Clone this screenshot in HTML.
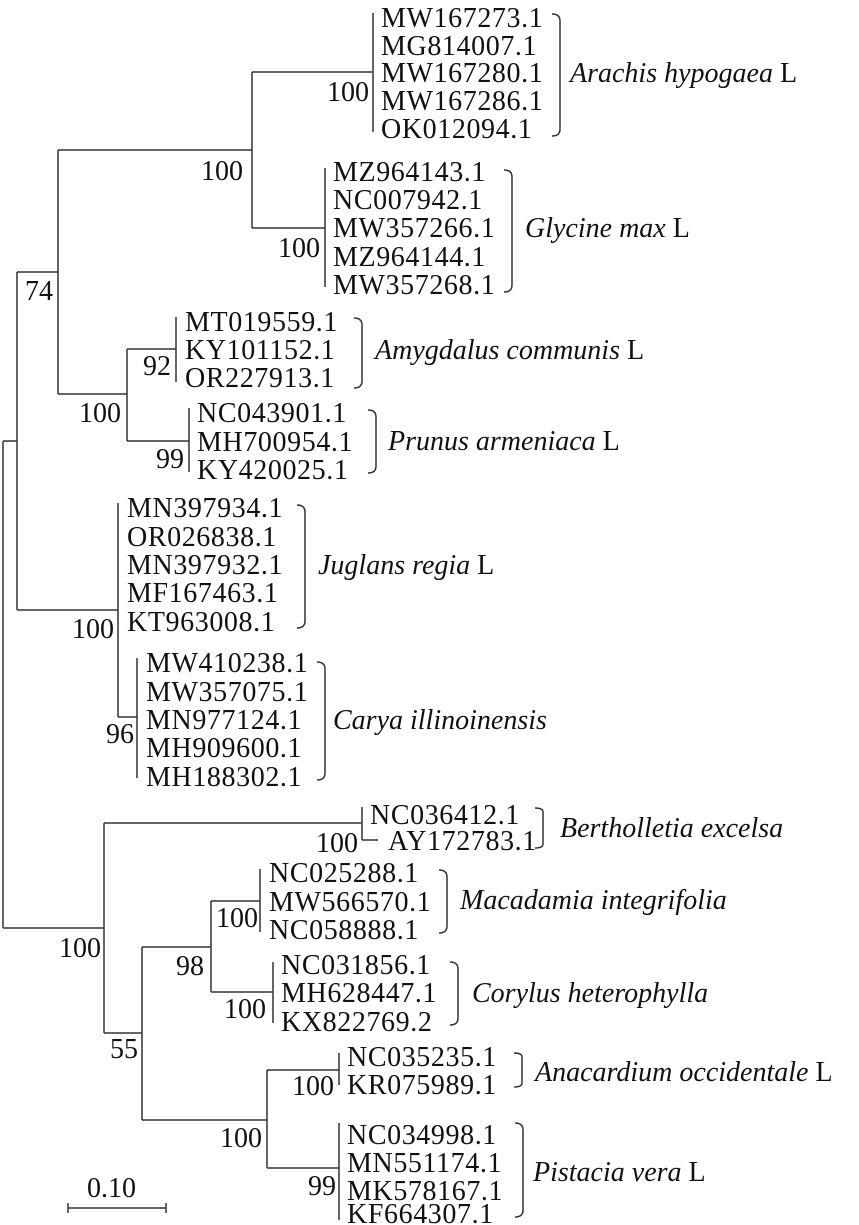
<!DOCTYPE html>
<html><head><meta charset="utf-8"><style>
html,body{margin:0;padding:0;background:#fff;}
svg{display:block;}
text{font-family:"Liberation Serif",serif;font-size:28px;fill:#111;}
.id{letter-spacing:0.6px;}
.sp{font-style:italic;}
.bs{text-anchor:end;}
</style></head><body>
<svg width="859" height="1225" viewBox="0 0 859 1225" xmlns="http://www.w3.org/2000/svg">
<g stroke="#333" stroke-width="1.5" fill="none">
<!-- top clade -->
<path d="M373 13V132M252 72H373M252 72V228M252 228H325M325 168V287"/>
<path d="M58 150H252M58 150V394M17 272H58"/>
<path d="M176 317V382M127 349H176M127 349V441M58 394H127M127 441H189M189 408V472"/>
<path d="M17 272V610M3 441H17M17 610H118M118 503V717M118 717H137M137 658V778"/>
<!-- bottom -->
<path d="M3 441V928M3 928H104M104 823V1033M104 823H362M362 807V840M362 840H378"/>
<path d="M104 1033H142M142 947V1120M142 947H211M211 901V992M211 901H260M260 869V932M211 992H273M273 962V1023"/>
<path d="M142 1120H267M267 1070V1168M267 1070H339M339 1053V1085M267 1168H339M339 1123V1220"/>
<!-- scale bar -->
<path d="M68 1208H166M68 1203V1213M166 1203V1213"/>
<!-- brackets -->
<path d="M552 14Q560 14 560 21V129Q560 136 552 136"/>
<path d="M504 170Q512 170 512 177V285Q512 292 504 292"/>
<path d="M354 318Q362 318 362 325V381Q362 388 354 388"/>
<path d="M368 410Q376 410 376 417V466Q376 473 368 473"/>
<path d="M297 505Q305 505 305 512V621Q305 628 297 628"/>
<path d="M317 662Q325 662 325 669V773Q325 780 317 780"/>
<path d="M535 808Q543 808 543 812V844Q543 848 535 848"/>
<path d="M439 870Q447 870 447 877V926Q447 933 439 933"/>
<path d="M450 962Q458 962 458 969V1018Q458 1025 450 1025"/>
<path d="M514 1053Q522 1053 522 1057V1083Q522 1087 514 1087"/>
<path d="M515 1123Q523 1123 523 1130V1210Q523 1217 515 1217"/>
</g>
<!-- ids -->
<g class="id">
<text x="381" y="27">MW167273.1</text>
<text x="381" y="55">MG814007.1</text>
<text x="381" y="82">MW167280.1</text>
<text x="381" y="110">MW167286.1</text>
<text x="381" y="138">OK012094.1</text>
<text x="333" y="181">MZ964143.1</text>
<text x="333" y="209">NC007942.1</text>
<text x="333" y="237">MW357266.1</text>
<text x="333" y="266">MZ964144.1</text>
<text x="333" y="294">MW357268.1</text>
<text x="185" y="331">MT019559.1</text>
<text x="185" y="359">KY101152.1</text>
<text x="185" y="387">OR227913.1</text>
<text x="197" y="422">NC043901.1</text>
<text x="197" y="451">MH700954.1</text>
<text x="197" y="479">KY420025.1</text>
<text x="127" y="517">MN397934.1</text>
<text x="127" y="546">OR026838.1</text>
<text x="127" y="574">MN397932.1</text>
<text x="127" y="602">MF167463.1</text>
<text x="127" y="631">KT963008.1</text>
<text x="146" y="672">MW410238.1</text>
<text x="146" y="701">MW357075.1</text>
<text x="146" y="729">MN977124.1</text>
<text x="146" y="757">MH909600.1</text>
<text x="146" y="786">MH188302.1</text>
<text x="370" y="824">NC036412.1</text>
<text x="388" y="850">AY172783.1</text>
<text x="269" y="882">NC025288.1</text>
<text x="269" y="911">MW566570.1</text>
<text x="269" y="939">NC058888.1</text>
<text x="281" y="974">NC031856.1</text>
<text x="281" y="1002">MH628447.1</text>
<text x="281" y="1031">KX822769.2</text>
<text x="347" y="1066">NC035235.1</text>
<text x="347" y="1094">KR075989.1</text>
<text x="347" y="1144">NC034998.1</text>
<text x="347" y="1172">MN551174.1</text>
<text x="347" y="1200">MK578167.1</text>
<text x="347" y="1223">KF664307.1</text>
</g>
<!-- species -->
<text x="570" y="82"><tspan class="sp">Arachis hypogaea</tspan> L</text>
<text x="525" y="237"><tspan class="sp">Glycine max</tspan> L</text>
<text x="375" y="359"><tspan class="sp">Amygdalus communis</tspan> L</text>
<text x="388" y="450"><tspan class="sp">Prunus armeniaca</tspan> L</text>
<text x="318" y="574"><tspan class="sp">Juglans regia</tspan> L</text>
<text x="333" y="729" class="sp">Carya illinoinensis</text>
<text x="560" y="837" class="sp">Bertholletia excelsa</text>
<text x="460" y="909" class="sp">Macadamia integrifolia</text>
<text x="472" y="1002" class="sp">Corylus heterophylla</text>
<text x="535" y="1081"><tspan class="sp">Anacardium occidentale</tspan> L</text>
<text x="533" y="1181"><tspan class="sp">Pistacia vera</tspan> L</text>
<!-- bootstrap -->
<g class="bs">
<text x="369" y="101">100</text>
<text x="320" y="257">100</text>
<text x="243" y="180">100</text>
<text x="53" y="300">74</text>
<text x="171" y="375">92</text>
<text x="121" y="422">100</text>
<text x="184" y="468">99</text>
<text x="114" y="638">100</text>
<text x="134" y="743">96</text>
<text x="358" y="852">100</text>
<text x="101" y="957">100</text>
<text x="138" y="1058">55</text>
<text x="204" y="975">98</text>
<text x="258" y="927">100</text>
<text x="266" y="1018">100</text>
<text x="262" y="1147">100</text>
<text x="334" y="1095">100</text>
<text x="336" y="1195">99</text>
</g>
<text x="87" y="1197">0.10</text>
</svg>
</body></html>
